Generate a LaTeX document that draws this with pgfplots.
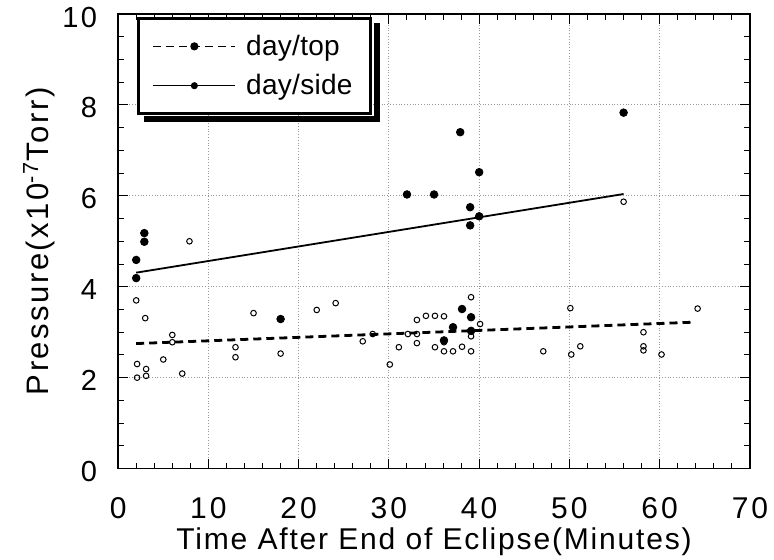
\documentclass[border=0pt]{standalone}
\usepackage{pgfplots}
\pgfplotsset{compat=1.18}
\usepackage{fontspec}
\setmainfont{Liberation Sans}
\begin{document}
\begin{tikzpicture}
\begin{axis}[
  name=ax,
  scale only axis,
  width=315.5pt, height=227pt,
  xmin=0, xmax=70, ymin=0, ymax=10,
  xtick={0,10,...,70}, ytick={0,2,...,10},
  minor x tick num=4, minor y tick num=3,
  tick align=inside,
  major tick length=5pt, minor tick length=3pt,
  tick style={black, line width=0.5pt},
  axis line style={line width=0.7pt},
  grid=major,
  major grid style={densely dotted, gray!80, line width=0.5pt},
  /pgf/number format/assume math mode=true,
  xticklabel style={font=\fontsize{15}{17}\selectfont\addfontfeature{LetterSpace=10}, anchor=center, yshift=-20pt},
  yticklabel style={font=\fontsize{14.5}{17}\selectfont\addfontfeature{LetterSpace=8}, anchor=east, xshift=-7pt, yshift=-1.5pt},
  xlabel={Time After End of Eclipse(Minutes)},
  ylabel={Pressure(x10\textsuperscript{-7}Torr)},
  xlabel style={font=\fontsize{15}{17}\selectfont\addfontfeature{LetterSpace=6}, at={(axis description cs:0.5,-0.1608)}, anchor=center},
  ylabel style={font=\fontsize{15.5}{18}\selectfont\addfontfeature{LetterSpace=8}, at={(axis description cs:-0.1252,0.5)}, anchor=center},
  legend style={name=leg, at={(rel axis cs:0.03,0.993)}, anchor=north west,
    draw=black, line width=1.5pt, fill=white,
    font=\fontsize{14}{16}\selectfont\addfontfeature{LetterSpace=1},
    inner xsep=7pt, inner ysep=6pt, row sep=4pt, cells={anchor=west},
    /tikz/every odd column/.append style={column sep=3pt}},
  legend cell align=left,
  legend image code/.code={
    \draw[#1, line width=0.7pt] (0pt,0pt) -- (41pt,0pt);
    \fill[solid] (20.5pt,0pt) circle (1.3pt);
  },
]
% regression lines (legend entries)
\addplot[black, line width=1.4pt, dash pattern=on 4pt off 2.5pt] coordinates {(2,2.75) (63.7,3.22)};
\addlegendentry{day/top}
\addplot[black, line width=0.9pt] coordinates {(2,4.31) (56,6.04)};
\addlegendentry{day/side}
% day/top points (open)
\addplot[only marks, mark=o, mark size=1.4pt, mark options={black, line width=0.5pt}, forget plot] coordinates {
(2.0,3.70) (3.0,3.31) (15.0,3.42) (6.0,2.94) (6.0,2.78) (13.0,2.67) (13.0,2.45)
(18.0,2.53) (5.0,2.40) (2.1,2.30) (3.1,2.19) (3.1,2.04) (2.1,2.0) (7.1,2.09)
(22.0,3.49) (7.9,5.0) (24.1,3.64) (39.1,3.77) (40.1,3.18) (33.1,3.27) (34.1,3.36)
(35.1,3.36) (36.1,3.35) (32.1,2.96) (33.1,2.96) (33.1,2.76) (39.1,2.91) (27.1,2.80)
(28.2,2.96) (31.1,2.67) (35.1,2.67) (36.1,2.58) (37.1,2.58) (38.1,2.68) (39.1,2.58)
(36.1,2.78) (30.1,2.29) (47.1,2.58) (56.0,5.87) (50.1,3.53) (64.2,3.52) (58.2,3.0)
(51.2,2.69) (58.2,2.69) (58.2,2.60) (50.2,2.51) (60.2,2.51)
};
% day/side points (filled)
\addplot[only marks, mark=*, mark size=1.9pt, mark options={black}, forget plot] coordinates {
(2.9,5.18) (2.9,4.99) (2.0,4.59) (2.0,4.19) (18.0,3.29) (37.9,7.40) (40.0,6.52)
(32.0,6.03) (35.0,6.03) (39.0,5.75) (40.0,5.55) (39.0,5.35) (38.1,3.51) (39.1,3.33)
(37.1,3.11) (39.1,3.03) (36.1,2.82) (56.0,7.83)
};
\end{axis}
% legend shadow
\fill[black] ([xshift=0.75pt,yshift=-3pt]leg.north east) rectangle ([xshift=4pt,yshift=-3.5pt]leg.south east);
\fill[black] ([xshift=3.5pt,yshift=-0.75pt]leg.south west) rectangle ([xshift=4pt,yshift=-3.5pt]leg.south east);
\pgfresetboundingbox
\useasboundingbox ([xshift=-59pt,yshift=-45.5pt]ax.south west) rectangle ([xshift=12pt,yshift=7pt]ax.north east);
\end{tikzpicture}
\end{document}
